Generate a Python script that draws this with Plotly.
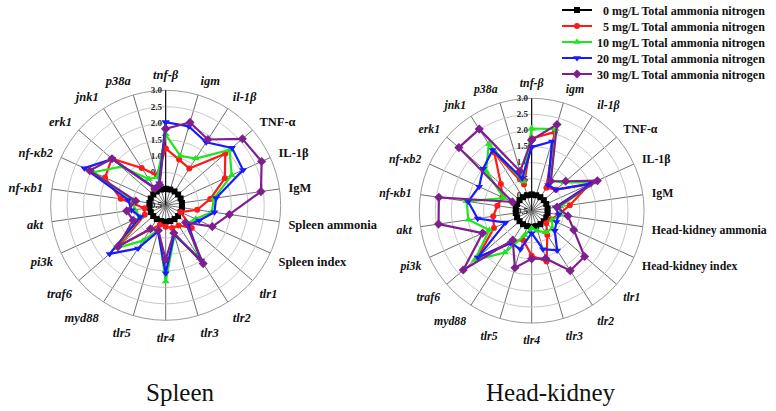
import plotly.graph_objects as go

# ---------------- data ----------------
genes_top = ["tnf-β", "igm", "il-1β", "TNF-α", "IL-1β", "IgM"]
genes_bottom = ["tlr1", "tlr2", "tlr3", "tlr4", "tlr5", "myd88", "traf6", "pi3k",
                "akt", "nf-κb1", "nf-κb2", "erk1", "jnk1", "p38a"]
spleen_categories = genes_top + ["Spleen ammonia", "Spleen index"] + genes_bottom
headkidney_categories = genes_top + ["Head-kidney ammonia", "Head-kidney index"] + genes_bottom
italic_labels = ["tnf-β", "igm", "il-1β", "tlr1", "tlr2", "tlr3", "tlr4", "tlr5", "myd88",
                 "traf6", "pi3k", "akt", "nf-κb1", "nf-κb2", "erk1", "jnk1", "p38a"]

series_names = ["\u00a0\u00a00 mg/L Total ammonia nitrogen", "\u00a0\u00a05 mg/L Total ammonia nitrogen",
                "10 mg/L Total ammonia nitrogen", "20 mg/L Total ammonia nitrogen",
                "30 mg/L Total ammonia nitrogen"]

spleen_0 = [0.0] * 22
spleen_5 = [1.23, 0.95, 0.83, 1.90, 1.48, 0.87, 0.47, 0.00, 0.55, 0.23, 0.22, 0.15,
            0.12, 0.38, 1.38, 0.20, 0.15, 0.88, 1.53, 1.67, 0.85, 0.45]
spleen_10 = [1.66, 1.07, 1.19, 2.07, 1.71, 0.98, 0.92, 0.50, 0.35, 1.42, 0.45, 1.82,
             0.28, 0.78, 1.49, 0.35, 0.45, 0.50, 1.92, 1.30, 0.45, 0.40]
spleen_20 = [2.03, 2.00, 1.78, 2.17, 2.09, 1.05, 1.00, 0.62, 0.41, 1.50, 0.42, 1.57,
             0.33, 1.06, 1.76, 0.35, 0.55, 0.65, 2.22, 1.65, 0.15, 0.20]
spleen_30 = [1.83, 2.13, 1.88, 2.59, 2.71, 2.43, 1.46, 1.06, 0.30, 1.61, 0.38, 1.15,
             0.30, 0.35, 1.42, 0.59, 0.70, 0.42, 2.04, 1.66, 0.10, 0.15]

hk_0 = [0.0] * 22
hk_5 = [1.75, 2.05, 0.35, 0.50, 1.47, 0.70, 0.35, 0.15, 0.10, 0.40, 1.15, 0.90,
        0.45, 0.65, 1.75, 0.79, 0.71, 0.58, 0.50, 0.77, 1.65, 0.35]
hk_10 = [2.06, 2.15, 0.60, 0.85, 1.62, 0.40, 0.40, 0.20, 0.35, 0.30, 0.15, 0.05,
         0.30, 1.05, 1.85, 0.95, 1.49, 1.55, 0.45, 1.38, 1.97, 0.45]
hk_20 = [1.48, 1.75, 0.45, 0.50, 1.55, 0.25, 0.35, 0.35, 0.45, 0.97, 0.75, 0.20,
         0.75, 0.70, 1.72, 0.39, 1.20, 1.50, 1.30, 1.50, 1.75, 0.55]
hk_30 = [1.70, 2.30, 0.60, 0.90, 1.75, 0.30, 0.64, 0.94, 1.68, 1.72, 1.05, 1.00,
         1.35, 0.59, 2.32, 1.18, 2.43, 2.42, 0.16, 2.50, 2.52, 0.78]

radial_ticks = [-0.5, 0.0, 0.5, 1.0, 1.5, 2.0, 2.5, 3.0]
panel_titles = ["Spleen", "Head-kidney"]

# ---------------- style ----------------
colors = ["#000000", "#ff1a1a", "#1ee61e", "#1a1aff", "#7f1f8f"]
symbols = ["square", "circle", "triangle-up", "triangle-down", "diamond"]
msizes = [6, 6, 7, 7, 7]
SERIF = "Liberation Serif, Times New Roman, serif"
W, H = 776, 411
legend_ids = ["legend", "legend2", "legend3", "legend4", "legend5"]
legend_centers_px = [10, 26, 42, 58, 74]


def fmt(label):
    return f"<i>{label}</i>" if label in italic_labels else label


def close(seq):
    return list(seq) + [seq[0]]


fig = go.Figure()
panels = [
    ("polar", spleen_categories, [spleen_0, spleen_5, spleen_10, spleen_20, spleen_30], True),
    ("polar2", headkidney_categories, [hk_0, hk_5, hk_10, hk_20, hk_30], False),
]
for subplot, cats, data, show in panels:
    for i, vals in enumerate(data):
        fig.add_trace(go.Scatterpolar(
            r=close(vals), theta=close(cats), subplot=subplot,
            mode="lines+markers", name=series_names[i], showlegend=show,
            legend=legend_ids[i],
            line=dict(color=colors[i], width=2.2),
            marker=dict(symbol=symbols[i], size=msizes[i], color=colors[i]),
        ))


def polar_layout(cats, xdom, ydom, fsize):
    return dict(
        domain=dict(x=xdom, y=ydom),
        bgcolor="white",
        radialaxis=dict(
            range=[radial_ticks[0], radial_ticks[-1]], tickvals=radial_ticks,
            tickformat=".1f", angle=90, side="counterclockwise", tickangle=90,
            showline=True, linecolor="#000000", linewidth=1,
            gridcolor="#c8c8c8", gridwidth=1, layer="below traces",
            ticks="", tickfont=dict(family=SERIF, size=9, color="#222", weight="bold"),
        ),
        angularaxis=dict(
            type="category", categoryarray=cats, direction="clockwise", rotation=90,
            tickmode="array", tickvals=cats, ticktext=[fmt(c) for c in cats],
            ticks="outside", ticklen=6, tickcolor="rgba(0,0,0,0)",
            showline=True, linecolor="#9a9a9a", linewidth=1,
            gridcolor="#6e6e6e", gridwidth=0.8, layer="below traces",
            tickfont=dict(family=SERIF, size=fsize, color="#111", weight="bold"),
        ),
    )


layout = dict(
    width=W, height=H,
    margin=dict(l=0, r=0, t=0, b=0, autoexpand=False),
    paper_bgcolor="white",
    hovermode=False,
    polar=polar_layout(spleen_categories, [0.0653, 0.3617], [0.2207, 0.7803], 12.5),
    polar2=polar_layout(headkidney_categories, [0.5403, 0.8300], [0.2139, 0.7608], 11.8),
    annotations=[
        dict(text=panel_titles[0], x=0.2332, y=0.0462, xref="paper", yref="paper",
             xanchor="center", yanchor="middle", showarrow=False,
             font=dict(family=SERIF, size=25, color="#111")),
        dict(text=panel_titles[1], x=0.7101, y=0.0462, xref="paper", yref="paper",
             xanchor="center", yanchor="middle", showarrow=False,
             font=dict(family=SERIF, size=25, color="#111")),
    ],
)
for lid, cy in zip(legend_ids, legend_centers_px):
    layout[lid] = dict(x=0.7178, y=1 - cy / H, xanchor="left", yanchor="middle",
                       font=dict(family=SERIF, size=12, color="#111", weight="bold"),
                       bgcolor="rgba(0,0,0,0)", itemwidth=30)
fig.update_layout(**layout)

fig.write_html("out.html", config={"displayModeBar": False},
               post_script="document.body.style.margin='0px';")
